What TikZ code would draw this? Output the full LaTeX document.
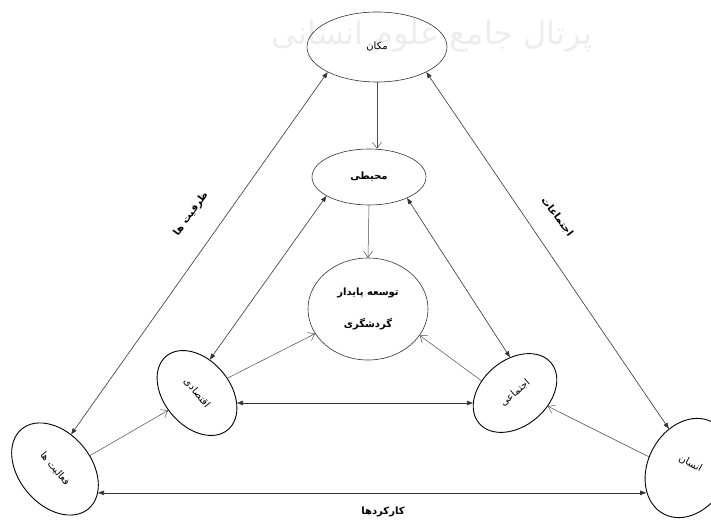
\documentclass[tikz,border=0pt]{standalone}
\usepackage{fontspec}
\usepackage{tikz}
\usetikzlibrary{arrows.meta,shapes.geometric}
\TeXXeTstate=1
\newfontfamily\arabicfont[Script=Arabic]{DejaVu Sans}
\newcommand\fatext[1]{{\arabicfont\beginR #1\endR}}
\tikzset{
	oval/.style={draw, ellipse, inner sep=0pt, line width=0.9pt},
	thinoval/.style={draw=black!80, ellipse, inner sep=0pt, line width=0.6pt},
	both/.style={draw=black!80, line width=0.6pt, {Triangle[length=6pt,width=4.5pt]}-{Triangle[length=6pt,width=4.5pt]}},
	oneway/.style={draw=black!70, line width=0.5pt, -{Straight Barb[length=6pt,width=9pt]}},
	lbl/.style={font=\fontsize{10}{12}\selectfont},
	lblb/.style={font=\fontsize{10}{12}\selectfont\bfseries},
}

\begin{document}
\begin{tikzpicture}[x=1pt,y=1pt]
			%%%%% START %%%%%
			\useasboundingbox (0,0) rectangle (711,-521);
			
			\node[text=black!7, font=\fontsize{32}{40}\selectfont] (wmk) at (432,-36) {\fatext{پرتال جامع علوم انسانی}};
			
			\node[thinoval, lbl, minimum width=140pt, minimum height=70pt] (mak) at (377,-47) {\fatext{مکان}};
			\node[thinoval, lblb, minimum width=114pt, minimum height=56pt] (moh) at (369,-177) {\fatext{محیطی}};
			\node[thinoval, lblb, minimum width=120pt, minimum height=102pt, align=center] (tow) at (368,-309) {\fatext{توسعه پایدار}\\[20pt]\fatext{گردشگری}};
			
			\node[oval, lbl, minimum width=96pt, minimum height=66pt, rotate=-50] (eqt) at (197,-393) {\fatext{اقتصادی}};
			\node[oval, lbl, minimum width=94pt, minimum height=66pt, rotate=40] (ejt) at (515,-393) {\fatext{اجتماعی}};
			\node[oval, lbl, minimum width=104pt, minimum height=72pt, rotate=-50] (fa) at (55,-469) {\fatext{فعالیت ها}};
			\node[oval, lbl, minimum width=80pt, minimum height=104pt, rotate=-28] (ins) at (688,-468) {\raisebox{12pt}{\fatext{انسان}}};
			
			\draw[both] (mak.207) -- (fa.115);
			\draw[both] (mak.333) -- (ins.144);
			\draw[oneway] (mak.south) -- (mak.south |- moh.north);
			\draw[oneway] (moh.south) -- (tow.north);
			\draw[both] (eqt.119) -- (moh.204);
			\draw[both] (moh.331) -- (ejt.58);
			\draw[oneway] (eqt.76) -- (tow.205);
			\draw[oneway] (ejt.120) -- (tow.333);
			\draw[both] (eqt.36) -- (eqt.36 -| ejt.153);
			\draw[oneway] (fa.71) -- (eqt.261);
			\draw[oneway] (ins.192) -- (ejt.298);
			\draw[both] (fa.21) -- (fa.21 -| ins.237);
			
			\node[lblb, rotate=54] (lzar) at (191,-214) {\fatext{ظرفیت ها}};
			\node[lblb, rotate=-53] (lejm) at (557,-217) {\fatext{اجتماعات}};
			\node[lblb] (lkar) at (383,-512) {\fatext{کارکردها}};
			
			%%%%% END %%%%%
\end{tikzpicture}
\end{document}
